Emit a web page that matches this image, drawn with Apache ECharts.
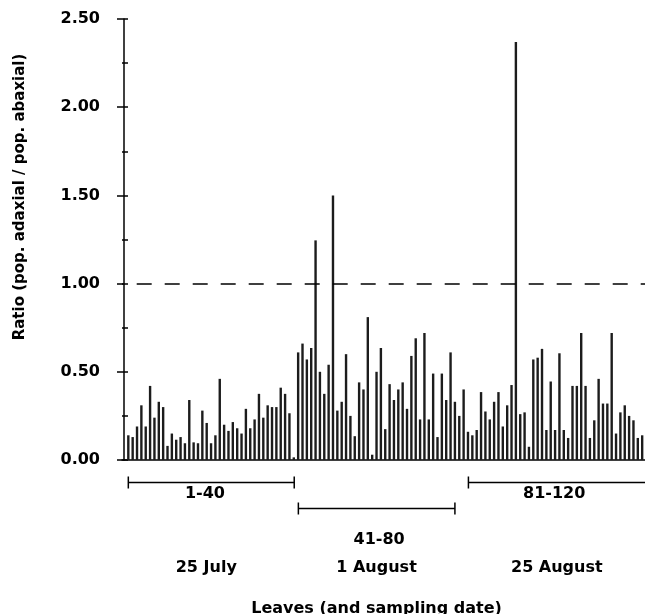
<!DOCTYPE html>
<html>
<head>
<meta charset="utf-8">
<script src="https://cdn.jsdelivr.net/npm/echarts@6/dist/echarts.min.js"></script>
<style>
  html, body { margin: 0; padding: 0; background: #fff; }
  #chart { width: 645px; height: 614px; }
</style>
</head>
<body>
<div id="chart"></div>
<script>
// ratio adaxial / abaxial population, one value per leaf (leaves 1..119 visible)
const ratios = [
  0.14, 0.13, 0.19, 0.31, 0.19, 0.42, 0.24, 0.33, 0.30, 0.08,
  0.15, 0.115, 0.13, 0.095, 0.34, 0.10, 0.095, 0.28, 0.21, 0.095,
  0.14, 0.46, 0.20, 0.165, 0.215, 0.18, 0.15, 0.29, 0.18, 0.23,
  0.375, 0.24, 0.31, 0.30, 0.30, 0.41, 0.375, 0.265, 0.015, 0.61,
  0.66, 0.57, 0.635, 1.245, 0.50, 0.375, 0.54, 1.50, 0.28, 0.33,
  0.60, 0.25, 0.135, 0.44, 0.40, 0.81, 0.03, 0.50, 0.635, 0.175,
  0.43, 0.34, 0.40, 0.44, 0.29, 0.59, 0.69, 0.23, 0.72, 0.23,
  0.49, 0.13, 0.49, 0.34, 0.61, 0.33, 0.25, 0.40, 0.16, 0.14,
  0.17, 0.385, 0.275, 0.23, 0.33, 0.385, 0.19, 0.31, 0.425, 2.37,
  0.26, 0.27, 0.075, 0.57, 0.58, 0.63, 0.17, 0.445, 0.17, 0.605,
  0.17, 0.125, 0.42, 0.42, 0.72, 0.42, 0.125, 0.225, 0.46, 0.32,
  0.32, 0.72, 0.15, 0.27, 0.31, 0.25, 0.225, 0.125, 0.14
]
const leaves = ratios.map((_, i) => i + 1)

const refLine = 1.0

// leaf groups under the axis (spans and label centres in leaf units)
const groupLabels = ['1-40', '41-80', '81-120']
const groupDates = ['25 July', '1 August', '25 August']
const groupSpans = [[1, 39.1], [40.05, 76.0], [79.1, 125]]
const groupLabelAt = [18.6, 58.6, 98.8]
const groupDateAt = [18.9, 58.0, 99.4]
const groupRow = [0, 1, 0]

const yTitle = 'Ratio (pop. adaxial / pop. abaxial)'
const xTitle = 'Leaves (and sampling date)'

const FONT = '"DejaVu Sans", sans-serif'

const chart = echarts.init(document.getElementById('chart'))

const option = {
  animation: false,
  grid: { left: 122, right: 0, top: 19, bottom: 154 },
  xAxis: {
    type: 'value',
    min: -0.45,
    max: 119.65,
    axisLine: { show: true, onZero: false, lineStyle: { color: '#000', width: 1.5 } },
    axisTick: { show: false },
    axisLabel: { show: false },
    splitLine: { show: false }
  },
  yAxis: [
    {
      type: 'value',
      min: 0,
      max: 2.5,
      interval: 0.5,
      axisLine: { show: true, lineStyle: { color: '#000', width: 1.5 } },
      axisTick: { show: true, length: 7, lineStyle: { color: '#000', width: 1.5 } },
      axisLabel: {
        margin: 22,
        color: '#000',
        fontFamily: FONT,
        fontWeight: 'bold',
        fontSize: 16,
        formatter: v => v.toFixed(2)
      },
      splitLine: { show: false }
    },
    {
      // minor ticks every 0.25, drawn inside
      type: 'value',
      min: 0,
      max: 2.5,
      interval: 0.25,
      position: 'left',
      axisLine: { show: false },
      axisTick: { show: true, inside: true, length: 6, lineStyle: { color: '#000', width: 1.5 } },
      axisLabel: { show: false },
      splitLine: { show: false }
    }
  ],
  series: [
    {
      type: 'bar',
      data: leaves.map((l, i) => [l, ratios[i]]),
      barWidth: 2.4,
      itemStyle: { color: '#1c1c1c' },
      markLine: {
        silent: true,
        symbol: 'none',
        label: { show: false },
        lineStyle: { color: '#000', width: 1.5, type: [15, 13], dashOffset: 13.3 },
        data: [{ yAxis: refLine }]
      }
    }
  ]
}

chart.setOption(option)

function px (leaf) {
  return chart.convertToPixel({ xAxisIndex: 0 }, leaf)
}

const rowY = [482.5, 508.5]
const graphics = []
groupSpans.forEach((span, i) => {
  const y = rowY[groupRow[i]]
  const x1 = px(span[0])
  const x2 = px(span[1])
  graphics.push({ type: 'line', shape: { x1, y1: y, x2, y2: y }, style: { stroke: '#000', lineWidth: 1.3 } })
  graphics.push({ type: 'line', shape: { x1, y1: y - 6, x2: x1, y2: y + 6 }, style: { stroke: '#000', lineWidth: 1.5 } })
  graphics.push({ type: 'line', shape: { x1: x2, y1: y - 6, x2, y2: y + 6 }, style: { stroke: '#000', lineWidth: 1.5 } })
  graphics.push({
    type: 'text',
    x: px(groupLabelAt[i]),
    y: groupRow[i] === 0 ? 493.5 : 540,
    style: { text: groupLabels[i], font: 'bold 16px ' + FONT, fill: '#000', align: 'center', verticalAlign: 'middle' }
  })
  graphics.push({
    type: 'text',
    x: px(groupDateAt[i]),
    y: 567.5,
    style: { text: groupDates[i], font: 'bold 16px ' + FONT, fill: '#000', align: 'center', verticalAlign: 'middle' }
  })
})
graphics.push({
  type: 'text',
  x: px(58.0),
  y: 609,
  style: { text: xTitle, font: 'bold 16px ' + FONT, fill: '#000', align: 'center', verticalAlign: 'middle' }
})
graphics.push({
  type: 'text',
  x: 20,
  y: 197,
  rotation: Math.PI / 2,
  style: { text: yTitle, font: 'bold 15px ' + FONT, fill: '#000', align: 'center', verticalAlign: 'middle' }
})

chart.setOption({ graphic: graphics })
</script>
</body>
</html>
